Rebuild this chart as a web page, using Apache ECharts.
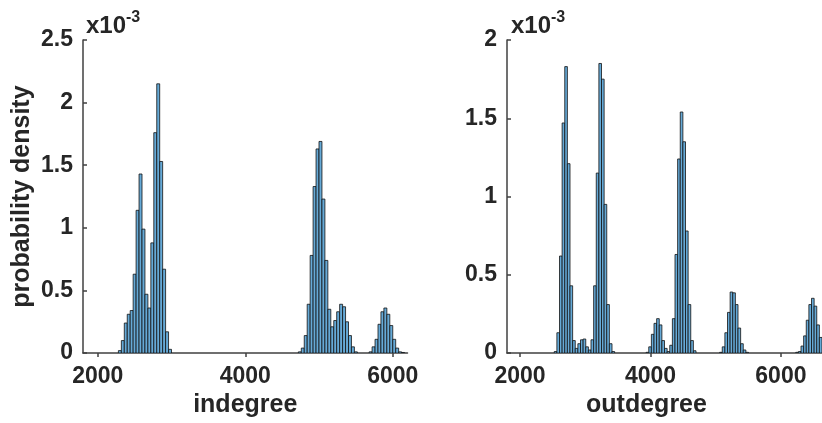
<!DOCTYPE html>
<html>
<head>
<meta charset="utf-8">
<script src="https://cdn.jsdelivr.net/npm/echarts@6/dist/echarts.min.js"></script>
<style>
  html, body { margin: 0; padding: 0; background: #fff; }
  #chart { width: 822px; height: 423px; }
</style>
</head>
<body>
<div id="chart"></div>
<script>
// densities in units of 1e-3, one array per cluster of non-empty bins
const leftBinWidth = 40
const leftStarts = [2280, 4720, 5680]
const leftPeakA = [0.02, 0.10, 0.24, 0.31, 0.34, 0.63, 1.14, 1.43, 0.99, 0.47, 0.36, 0.88, 1.76, 2.15, 1.53, 0.67, 0.17, 0.03]
const leftPeakB = [0.01, 0.04, 0.14, 0.39, 0.78, 1.33, 1.63, 1.69, 1.23, 0.74, 0.35, 0.21, 0.26, 0.33, 0.39, 0.37, 0.25, 0.14, 0.05, 0.01]
const leftPeakC = [0.01, 0.05, 0.11, 0.23, 0.33, 0.36, 0.31, 0.22, 0.11, 0.04, 0.01, 0.005]

const rightBinOrigin = 1800
const rightBinWidth = 40.25
const rightStartBins = [18, 53, 81, 110]
const rightPeakA = [0.01, 0.13, 0.62, 1.47, 1.83, 1.21, 0.43, 0.08, 0.03, 0.06, 0.085, 0.09, 0.04, 0.02, 0.085, 0.43, 1.15, 1.85, 1.75, 0.95, 0.31, 0.06, 0.01]
const rightPeakB = [0.005, 0.04, 0.12, 0.19, 0.22, 0.18, 0.08, 0.03, 0.01, 0.05, 0.22, 0.63, 1.24, 1.54, 1.35, 0.78, 0.31, 0.08, 0.015]
const rightPeakC = [0.005, 0.04, 0.13, 0.26, 0.39, 0.385, 0.31, 0.16, 0.06, 0.02, 0.005]
const rightPeakD = [0.005, 0.01, 0.045, 0.11, 0.21, 0.31, 0.35, 0.30, 0.18, 0.10]

const xTicks = [2000, 4000, 6000]
const leftX = { min: 1800, max: 6200 }
const rightX = { min: 1800, max: 6630 }
const leftYMax = 2.5
const rightYMax = 2

const textColor = '#262626'
const axisColor = '#404040'
const font = 'Liberation Sans'

function toBins(start, width, values) {
  return values.map((v, i) => [start + i * width, start + (i + 1) * width, v])
}

let leftData = []
;[leftPeakA, leftPeakB, leftPeakC].forEach((vals, k) => {
  leftData = leftData.concat(toBins(leftStarts[k], leftBinWidth, vals))
})
let rightData = []
;[rightPeakA, rightPeakB, rightPeakC, rightPeakD].forEach((vals, k) => {
  rightData = rightData.concat(toBins(rightBinOrigin + rightStartBins[k] * rightBinWidth, rightBinWidth, vals))
})

function renderBin(params, api) {
  const p0 = api.coord([api.value(0), 0])
  const p1 = api.coord([api.value(1), api.value(2)])
  return {
    type: 'rect',
    shape: { x: p0[0], y: p1[1], width: p1[0] - p0[0], height: p0[1] - p1[1] },
    style: { fill: 'rgb(102,170,215)', stroke: '#111', lineWidth: 0.8 }
  }
}

function xAxisOf(grid, range, name, shift) {
  return {
    type: 'value',
    gridIndex: grid,
    min: range.min,
    max: range.max,
    splitLine: { show: false },
    axisLine: { lineStyle: { color: axisColor, width: 1.5 } },
    axisTick: { customValues: xTicks, length: 4, lineStyle: { color: axisColor, width: 1.5 } },
    axisLabel: {
      customValues: xTicks, color: textColor, fontSize: 23, fontWeight: 'bold', margin: 12, fontFamily: font,
      formatter: v => String(v)
    },
    name: name,
    nameLocation: 'middle',
    nameGap: 36,
    nameTextStyle: { color: textColor, fontSize: 25, fontWeight: 'bold', fontFamily: font, padding: [0, shift, 0, 0] }
  }
}

function yAxisOf(grid, max, name) {
  return {
    type: 'value',
    gridIndex: grid,
    min: 0,
    max: max,
    interval: 0.5,
    splitLine: { show: false },
    axisLine: { show: true, lineStyle: { color: axisColor, width: 1.5 } },
    axisTick: { show: true, inside: true, length: 4, lineStyle: { color: axisColor, width: 1.5 } },
    axisLabel: { color: textColor, fontSize: 23, fontWeight: 'bold', margin: 10, fontFamily: font },
    name: name,
    nameLocation: 'middle',
    nameGap: 48,
    nameTextStyle: { color: textColor, fontSize: 25, fontWeight: 'bold', fontFamily: font }
  }
}

function exponent(left) {
  return {
    type: 'text',
    left: left,
    top: 10,
    style: {
      text: 'x10{s|-3}',
      fill: textColor,
      font: 'bold 24px "Liberation Sans"',
      rich: {
        s: { fontSize: 16, fontWeight: 'bold', fontFamily: font, fill: textColor, padding: [0, 0, 16, 0] }
      }
    }
  }
}

const chart = echarts.init(document.getElementById('chart'))
chart.setOption({
  animation: false,
  backgroundColor: '#fff',
  grid: [
    { left: 83, top: 40, width: 324.5, height: 314 },
    { left: 507, top: 40, width: 315, height: 314 }
  ],
  xAxis: [xAxisOf(0, leftX, 'indegree', 0), xAxisOf(1, rightX, 'outdegree', 36)],
  yAxis: [yAxisOf(0, leftYMax, 'probability density'), yAxisOf(1, rightYMax, '')],
  graphic: [exponent(86), exponent(511)],
  series: [
    { type: 'custom', xAxisIndex: 0, yAxisIndex: 0, renderItem: renderBin, encode: { x: [0, 1], y: 2 }, data: leftData, clip: true },
    { type: 'custom', xAxisIndex: 1, yAxisIndex: 1, renderItem: renderBin, encode: { x: [0, 1], y: 2 }, data: rightData, clip: true }
  ]
})
</script>
</body>
</html>
